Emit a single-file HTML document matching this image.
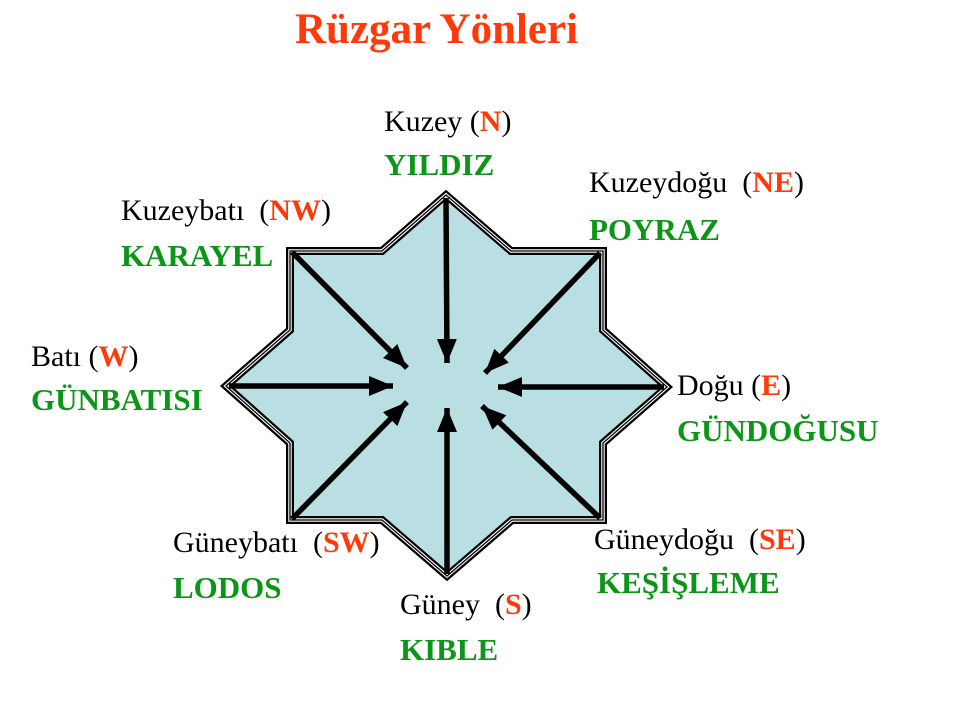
<!DOCTYPE html>
<html><head><meta charset="utf-8"><style>
html,body{margin:0;padding:0;background:#fff;}
body{width:960px;height:720px;position:relative;overflow:hidden;font-family:"Liberation Serif",serif;}
.t{position:absolute;font-size:30px;color:#000;white-space:pre;line-height:1;}
.g{color:#0c9618;font-weight:bold;font-size:31px;}
.r{color:#ff3a0a;font-weight:bold;}
svg{position:absolute;left:0;top:0;}
</style></head><body>
<svg width="960" height="720" viewBox="0 0 960 720">
<defs>
<marker id="ah" markerUnits="userSpaceOnUse" markerWidth="26" markerHeight="22" refX="24" refY="10" orient="auto">
<path d="M0,0 L24,10 L0,20 Z" fill="#000"/>
</marker>
</defs>
<g>
<polygon points="446,195 511,251 603,251 603,330 667,387 603,443 603,520 512,520 447,576 382,520 290,520 290,443 226,386 290,330 290,251 382,251" fill="#badfe3" stroke="#000" stroke-width="8" stroke-linejoin="miter"/>
<polygon points="446,195 511,251 603,251 603,330 667,387 603,443 603,520 512,520 447,576 382,520 290,520 290,443 226,386 290,330 290,251 382,251" fill="none" stroke="#fff" stroke-width="3.5"/>
<polygon points="446,195 511,251 603,251 603,330 667,387 603,443 603,520 512,520 447,576 382,520 290,520 290,443 226,386 290,330 290,251 382,251" fill="none" stroke="#000" stroke-width="1.3"/>
</g>
<g stroke="#000" stroke-width="5.5" marker-end="url(#ah)">
<line x1="446" y1="198" x2="447" y2="363"/>
<line x1="292" y1="252" x2="407" y2="368"/>
<line x1="229" y1="386" x2="393" y2="386"/>
<line x1="292" y1="519" x2="407" y2="402"/>
<line x1="447" y1="574" x2="447" y2="408"/>
<line x1="600" y1="518" x2="482" y2="406"/>
<line x1="664" y1="387" x2="498" y2="387"/>
<line x1="600" y1="253" x2="485" y2="373"/>
</g>
</svg>
<div class="t" style="left:295px;top:8px;font-size:43px;font-weight:bold;color:#ff3a0a;">Rüzgar Yönleri</div>

<div class="t" style="left:384px;top:107px;">Kuzey (<span class="r">N</span>)</div>
<div class="t g" style="left:384px;top:149px;">YILDIZ</div>

<div class="t" style="left:589px;top:168px;">Kuzeydoğu  (<span class="r">NE</span>)</div>
<div class="t g" style="left:589px;top:214px;">POYRAZ</div>

<div class="t" style="left:121px;top:196px;">Kuzeybatı  (<span class="r">NW</span>)</div>
<div class="t g" style="left:121px;top:240px;">KARAYEL</div>

<div class="t" style="left:31px;top:342px;">Batı (<span class="r">W</span>)</div>
<div class="t g" style="left:31px;top:384px;">GÜNBATISI</div>

<div class="t" style="left:677px;top:371px;">Doğu (<span class="r">E</span>)</div>
<div class="t g" style="left:677px;top:415px;">GÜNDOĞUSU</div>

<div class="t" style="left:173px;top:528px;">Güneybatı  (<span class="r">SW</span>)</div>
<div class="t g" style="left:173px;top:572px;">LODOS</div>

<div class="t" style="left:594px;top:525px;">Güneydoğu  (<span class="r">SE</span>)</div>
<div class="t g" style="left:597px;top:567px;">KEŞİŞLEME</div>

<div class="t" style="left:400px;top:590px;">Güney  (<span class="r">S</span>)</div>
<div class="t g" style="left:400px;top:634px;">KIBLE</div>
</body></html>
